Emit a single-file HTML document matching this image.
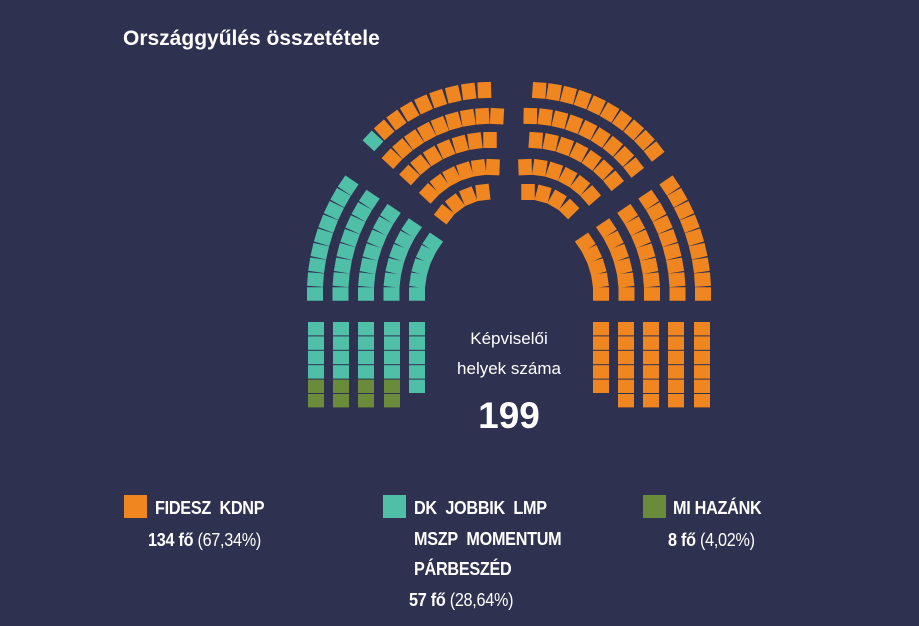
<!DOCTYPE html>
<html><head><meta charset="utf-8"><style>
body{margin:0;width:919px;height:626px;background:#2e3150;overflow:hidden;font-family:"Liberation Sans",sans-serif;color:#fff;position:relative}
.t{position:absolute;white-space:nowrap}
.b{font-weight:bold}
.l{font-size:18px;font-weight:bold;letter-spacing:-0.3px;transform:scaleX(0.9);transform-origin:left}
.sq{position:absolute;width:23px;height:23px}
</style></head><body>
<div class="t b" style="left:123px;top:27px;font-size:21px">Országgyűlés összetétele</div>
<svg id="s" width="919" height="626" style="position:absolute;left:0;top:0"></svg>
<div class="t" style="left:409px;width:200px;text-align:center;top:329px;font-size:17px">Képviselői</div>
<div class="t" style="left:409px;width:200px;text-align:center;top:359px;font-size:17px">helyek száma</div>
<div class="t b" style="left:409px;width:200px;text-align:center;top:395px;font-size:37px">199</div>

<div class="sq" style="left:124px;top:495px;background:#f0861f"></div>
<div class="t l" style="left:155px;top:498px">FIDESZ&nbsp; KDNP</div>
<div class="t l" style="left:148px;top:530px"><span>134 fő</span> <span style="font-weight:normal">(67,34%)</span></div>

<div class="sq" style="left:383px;top:495px;background:#4fbfa8"></div>
<div class="t l" style="left:414px;top:498px">DK&nbsp; JOBBIK&nbsp; LMP</div>
<div class="t l" style="left:414px;top:529px">MSZP&nbsp; MOMENTUM</div>
<div class="t l" style="left:414px;top:559px">PÁRBESZÉD</div>
<div class="t l" style="left:409px;top:590px"><span>57 fő</span> <span style="font-weight:normal">(28,64%)</span></div>

<div class="sq" style="left:643px;top:495px;background:#6a8c3a"></div>
<div class="t l" style="left:673px;top:498px">MI HAZÁNK</div>
<div class="t l" style="left:668px;top:530px"><span>8 fő</span> <span style="font-weight:normal">(4,02%)</span></div>

<script>
var O="#f0861f",T="#4fbfa8",G="#6a8c3a";
var s=document.getElementById("s"),h="";
function cell(x,y,a,c,w,hh){h+='<rect x="'+(-w/2)+'" y="'+(-hh/2)+'" width="'+w+'" height="'+hh+'" fill="'+c+'" transform="translate('+x.toFixed(1)+','+y.toFixed(1)+') rotate('+(-a+90).toFixed(1)+')"/>';}
function row(cx,cy,r,n,a0,a1,col,w,hh){
  for(var j=0;j<n;j++){var a=a0+(a1-a0)*j/(n-1),rad=a*Math.PI/180;
   var c=typeof col=="function"?col(j):col;
   cell(cx+r*Math.cos(rad),cy-r*Math.sin(rad),a,c,w,hh);}}
var lr=[92,117.5,143,168.5,194],lc=[5,6,7,8,9];
for(var i=0;i<5;i++){row(509,294,lr[i],lc[i],180,146,T,13.5,16);row(509,294,lr[i],lc[i],0,34,O,13.5,16);}
var UL=[[160,9,137,92],[134,9,137,87],[110,7,137,90],[83,6,137,88],[58,4,142,97]];
UL.forEach(function(q,i){row(490,250,q[0],q[1],q[2],q[3],function(j){return (i==0&&j==0)?T:O;},13.5,16);});
var UR=[[160,10,86,38],[134,9,89,38],[110,7,86,39],[83,6,92,41],[58,4,90,45]];
UR.forEach(function(q){row(528,250,q[0],q[1],q[2],q[3],O,13.5,16);});
var tx=[308,333,358,384,409],ox=[593,618,643,668,694];
for(var c=0;c<5;c++)for(var r=0;r<6;r++){
 var y=322+r*14.4;
 if(c<4)h+='<rect x="'+tx[c]+'" y="'+y+'" width="16" height="13.4" fill="'+(r>=4?G:T)+'"/>';
 else if(r<5)h+='<rect x="'+tx[c]+'" y="'+y+'" width="16" height="13.4" fill="'+T+'"/>';
 if(!(c==0&&r==5))h+='<rect x="'+ox[c]+'" y="'+y+'" width="16" height="13.4" fill="'+O+'"/>';
}
s.innerHTML=h;
</script>
</body></html>
